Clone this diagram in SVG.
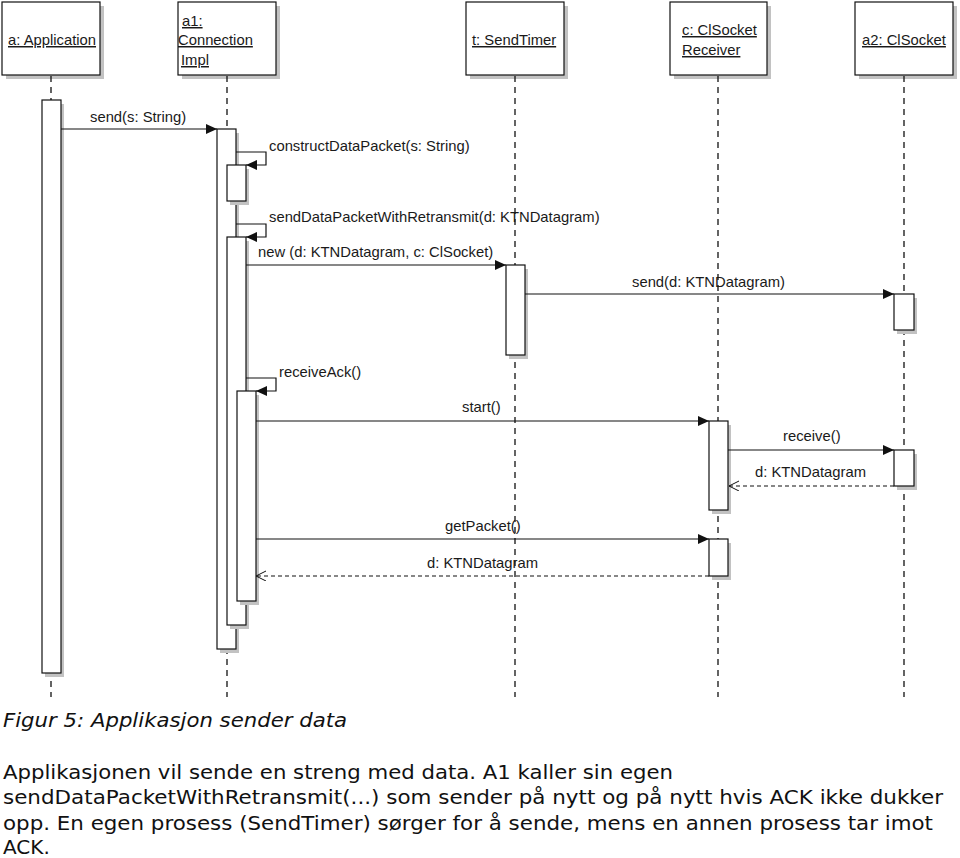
<svg xmlns="http://www.w3.org/2000/svg" width="960" height="858" viewBox="0 0 960 858">
<style>
.bg{fill:#fff}
.box{fill:#fff;stroke:#111;stroke-width:1.2}
.sh{fill:#c2c2c2}
.act{fill:#fff;stroke:#111;stroke-width:1.2}
.life{stroke:#111;stroke-width:1.3;stroke-dasharray:6 5;fill:none}
.hd{font-family:"Liberation Sans",Arial,sans-serif;font-size:14.8px;fill:#1a1a1a;text-decoration:underline}
.lbl{font-family:"Liberation Sans",Arial,sans-serif;font-size:14.8px;fill:#1a1a1a}
.msg{stroke:#111;stroke-width:1.2;fill:none}
.ret{stroke:#111;stroke-width:1.2;fill:none;stroke-dasharray:4 3}
.cap{font-family:"DejaVu Sans",Verdana,sans-serif;font-size:20px;fill:#111}
</style>
<defs>
<marker id="fill" markerUnits="userSpaceOnUse" markerWidth="12" markerHeight="12" refX="11" refY="5" orient="auto">
<path d="M0,0 L11,5 L0,10 z" fill="#111"/>
</marker>
<marker id="open" markerUnits="userSpaceOnUse" markerWidth="12" markerHeight="12" refX="10" refY="5" orient="auto">
<path d="M0,0 L10,5 L0,10" fill="none" stroke="#111" stroke-width="1"/>
</marker>
</defs>
<rect class="bg" x="0" y="0" width="960" height="858"/>

<g id="node-a">
<rect class="sh" x="6" y="6" width="98" height="73"/>
<rect class="box" x="2" y="2" width="98" height="73"/>
<text class="hd" x="8" y="45">a: Application</text>
<line class="life" x1="51" y1="76" x2="51" y2="697"/>
<rect class="sh" x="45" y="104" width="19" height="573"/>
<rect class="act" x="42" y="100" width="19" height="573"/>
</g>

<g id="node-a1">
<rect class="sh" x="182" y="6" width="98" height="73"/>
<rect class="box" x="178" y="2" width="98" height="73"/>
<text class="hd" x="182" y="26">a1:</text>
<text class="hd" x="178" y="45">Connection</text>
<text class="hd" x="181" y="65">Impl</text>
<line class="life" x1="227" y1="76" x2="227" y2="697"/>
<rect class="sh" x="220" y="133" width="19" height="520"/>
<rect class="act" x="217" y="129" width="19" height="520"/>
<rect class="sh" x="230" y="169" width="19" height="36"/>
<rect class="act" x="227" y="165" width="19" height="36"/>
<rect class="sh" x="230" y="241" width="19" height="388"/>
<rect class="act" x="227" y="237" width="19" height="388"/>
<rect class="sh" x="240" y="395" width="19" height="210"/>
<rect class="act" x="237" y="391" width="19" height="210"/>
</g>

<g id="node-t">
<rect class="sh" x="470" y="6" width="98" height="73"/>
<rect class="box" x="466" y="2" width="98" height="73"/>
<text class="hd" x="472" y="45">t: SendTimer</text>
<line class="life" x1="515" y1="76" x2="515" y2="697"/>
<rect class="sh" x="509" y="269" width="19" height="90"/>
<rect class="act" x="506" y="265" width="19" height="90"/>
</g>

<g id="node-c">
<rect class="sh" x="674" y="6" width="97" height="73"/>
<rect class="box" x="670" y="2" width="97" height="73"/>
<text class="hd" x="682" y="35">c: ClSocket</text>
<text class="hd" x="682" y="55">Receiver</text>
<line class="life" x1="718" y1="76" x2="718" y2="697"/>
<rect class="sh" x="712" y="425" width="19" height="89"/>
<rect class="act" x="709" y="421" width="19" height="89"/>
<rect class="sh" x="712" y="543" width="19" height="37"/>
<rect class="act" x="709" y="539" width="19" height="37"/>
</g>

<g id="node-a2">
<rect class="sh" x="859" y="6" width="98" height="73"/>
<rect class="box" x="855" y="2" width="98" height="73"/>
<text class="hd" x="862" y="45">a2: ClSocket</text>
<line class="life" x1="904" y1="76" x2="904" y2="697"/>
<rect class="sh" x="897" y="298" width="20" height="36"/>
<rect class="act" x="894" y="294" width="20" height="36"/>
<rect class="sh" x="897" y="454" width="20" height="36"/>
<rect class="act" x="894" y="450" width="20" height="36"/>
</g>

<g id="connectors">
<line class="msg" x1="61" y1="129" x2="217" y2="129" marker-end="url(#fill)"/>
<text class="lbl" x="90" y="122">send(s: String)</text>

<polyline class="msg" points="236,152 266,152 266,165 246,165" marker-end="url(#fill)"/>
<text class="lbl" x="269" y="151">constructDataPacket(s: String)</text>

<polyline class="msg" points="236,224 266,224 266,237 246,237" marker-end="url(#fill)"/>
<text class="lbl" x="269" y="222">sendDataPacketWithRetransmit(d: KTNDatagram)</text>

<line class="msg" x1="246" y1="265" x2="506" y2="265" marker-end="url(#fill)"/>
<text class="lbl" x="258" y="257">new (d: KTNDatagram, c: ClSocket)</text>

<line class="msg" x1="525" y1="294" x2="894" y2="294" marker-end="url(#fill)"/>
<text class="lbl" x="632" y="287">send(d: KTNDatagram)</text>

<polyline class="msg" points="246,378 276,378 276,391 256,391" marker-end="url(#fill)"/>
<text class="lbl" x="279" y="377">receiveAck()</text>

<line class="msg" x1="256" y1="421" x2="709" y2="421" marker-end="url(#fill)"/>
<text class="lbl" x="462" y="412">start()</text>

<line class="msg" x1="728" y1="450" x2="894" y2="450" marker-end="url(#fill)"/>
<text class="lbl" x="783" y="441">receive()</text>

<line class="ret" x1="894" y1="486" x2="729" y2="486" marker-end="url(#open)"/>
<text class="lbl" x="755" y="477">d: KTNDatagram</text>

<line class="msg" x1="256" y1="539" x2="709" y2="539" marker-end="url(#fill)"/>
<text class="lbl" x="445" y="531">getPacket()</text>

<line class="ret" x1="709" y1="576" x2="256" y2="576" marker-end="url(#open)"/>
<text class="lbl" x="427" y="568">d: KTNDatagram</text>
</g>

<text class="cap" x="3" y="727" font-style="italic" textLength="344" lengthAdjust="spacingAndGlyphs">Figur 5: Applikasjon sender data</text>
<text class="cap" x="3" y="779" textLength="670" lengthAdjust="spacingAndGlyphs">Applikasjonen vil sende en streng med data. A1 kaller sin egen</text>
<text class="cap" x="3" y="804" textLength="940" lengthAdjust="spacingAndGlyphs">sendDataPacketWithRetransmit(...) som sender på nytt og på nytt hvis ACK ikke dukker</text>
<text class="cap" x="3" y="830" textLength="930" lengthAdjust="spacingAndGlyphs">opp. En egen prosess (SendTimer) sørger for å sende, mens en annen prosess tar imot</text>
<text class="cap" x="3" y="854">ACK.</text>
</svg>
